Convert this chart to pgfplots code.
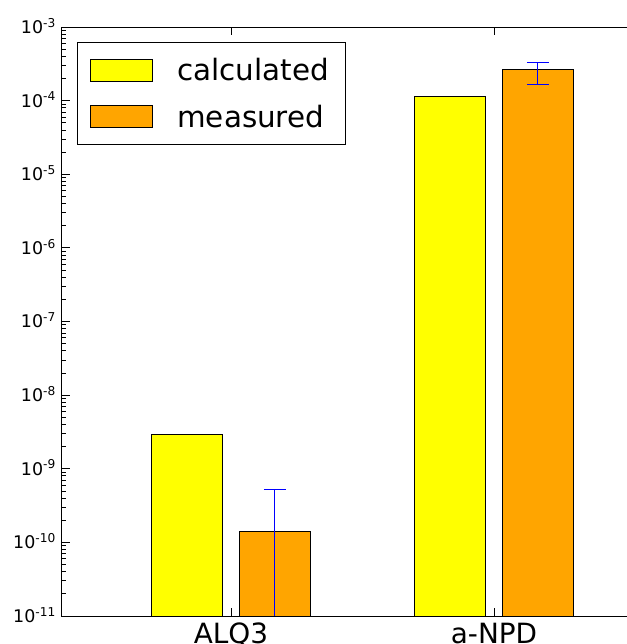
\documentclass[border=0pt]{standalone}
\usepackage{fontspec}
\setmainfont{DejaVu Sans}
\usepackage{pgfplots}
\pgfplotsset{compat=1.18}
\definecolor{cyel}{HTML}{FFFF00}
\definecolor{corg}{HTML}{FFA500}
\definecolor{eblue}{HTML}{0000FF}
\pgfplotsset{mylegend/.style={legend image code/.code={\draw[##1,line width=0.8bp] (0bp,-11bp) rectangle (62bp,11bp);}},
  myerr/.style={forget plot, draw=none, mark=none,
  error bars/.cd, y dir=both, y explicit,
  error bar style={draw=eblue, color=eblue, line width=1bp},
  error mark options={rotate=90, draw=eblue, color=eblue, mark size=11bp, line width=1bp}}}
\begin{document}
\begin{tikzpicture}
\begin{axis}[
  name=ax,
  scale only axis,
  width=578bp, height=589bp,
  ymode=log, log basis y=10, log origin=infty,
  ymin=1e-11, ymax=1e-3,
  xmin=-0.6426, xmax=1.555,
  xtick={0,1}, xticklabels={ALQ3,a-NPD},
  ytick={1e-11,1e-10,1e-9,1e-8,1e-7,1e-6,1e-5,1e-4,1e-3},
  yticklabels={10\textsuperscript{-11},10\textsuperscript{-10},10\textsuperscript{-9},10\textsuperscript{-8},10\textsuperscript{-7},10\textsuperscript{-6},10\textsuperscript{-5},10\textsuperscript{-4},10\textsuperscript{-3}},
  minor ytick={2e-11,3e-11,4e-11,5e-11,6e-11,7e-11,8e-11,9e-11,
               2e-10,3e-10,4e-10,5e-10,6e-10,7e-10,8e-10,9e-10,
               2e-9,3e-9,4e-9,5e-9,6e-9,7e-9,8e-9,9e-9,
               2e-8,3e-8,4e-8,5e-8,6e-8,7e-8,8e-8,9e-8,
               2e-7,3e-7,4e-7,5e-7,6e-7,7e-7,8e-7,9e-7,
               2e-6,3e-6,4e-6,5e-6,6e-6,7e-6,8e-6,9e-6,
               2e-5,3e-5,4e-5,5e-5,6e-5,7e-5,8e-5,9e-5,
               2e-4,3e-4,4e-4,5e-4,6e-4,7e-4,8e-4,9e-4},
  tick align=inside,
  major tick length=8bp, minor tick length=4bp,
  axis line style={line width=1bp},
  every tick/.style={black, line width=0.8bp},
  xticklabel style={font=\fontsize{28}{32}\selectfont, anchor=north, inner sep=0pt, text height=20.4bp, text depth=0pt, yshift=-7bp},
  yticklabel style={font=\fontsize{17.5}{20}\selectfont, anchor=east, inner sep=0pt, text height=12.8bp, text depth=0pt, xshift=-6bp},
  legend style={at={(axis description cs:0.026,0.9745)}, anchor=north west,
    font=\fontsize{29.5}{34}\selectfont, draw=black, line width=1bp,
    inner xsep=12bp, inner ysep=16bp, column sep=25bp, row sep=24bp,
    nodes={inner sep=0pt, text height=22bp, text depth=0pt, text width=156bp, align=left}},
  legend cell align=left,
]
\addplot[ybar, bar width=0.27, bar shift=-0.167, fill=cyel, draw=black, line width=0.8bp, mylegend]
  coordinates {(0,2.9e-9) (1,1.13e-4)};
\addlegendentry{calculated}
\addplot[ybar, bar width=0.27, bar shift=0.167, fill=corg, draw=black, line width=0.8bp, mylegend]
  coordinates {(0,1.39e-10) (1,2.68e-4)};
\addlegendentry{measured}
% ALQ3 measured error bar: 1.39e-10 +3.84e-10 (lower end below the axis)
\addplot[forget plot, draw=eblue, line width=1bp, mark=none] coordinates {(0.167,1.01e-11) (0.167,5.23e-10)};
\addplot[forget plot, draw=eblue, line width=1bp, mark=none] coordinates {(0.1252,5.23e-10) (0.2088,5.23e-10)};
\addplot[myerr] coordinates {(1.167,2.68e-4) += (0,0.63e-4) -= (0,1.02e-4)};
\end{axis}
\pgfresetboundingbox
\path[use as bounding box] ([shift={(-62bp,-28bp)}]ax.south west) rectangle ([shift={(564bp,27bp)}]ax.north west);
\end{tikzpicture}
\end{document}
